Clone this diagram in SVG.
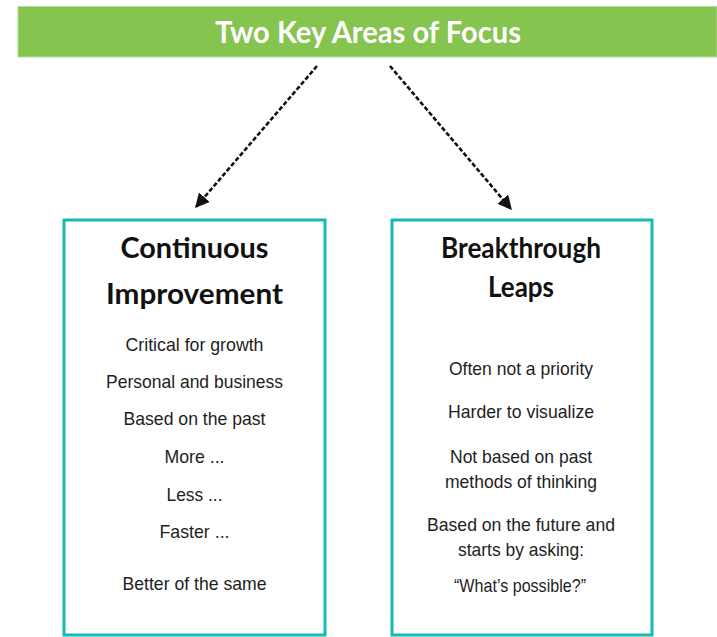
<svg xmlns="http://www.w3.org/2000/svg" width="717" height="637" viewBox="0 0 717 637">
  <style>
    .banner { fill: #85C44E; stroke: #B5DC95; stroke-width: 1; }
    .banner-title { font-family: Lato, "Open Sans", sans-serif; font-weight: bold; font-size: 30px; fill: #FFFFFF; text-anchor: middle; }
    .panel { fill: #FFFFFF; stroke: #17B9B3; stroke-width: 3; }
    .panel-title { font-family: Lato, "Open Sans", sans-serif; font-weight: bold; font-size: 28px; fill: #111111; text-anchor: middle; }
    .item { font-family: "Liberation Sans", Arial, sans-serif; font-size: 18.5px; fill: #1E1E1E; text-anchor: middle; }
    .link { fill: none; stroke: #111111; stroke-width: 2.6; stroke-dasharray: 4.5 2.2; }
  </style>
  <defs>
    <marker id="arrow" viewBox="0 0 10 10" refX="9" refY="5" markerWidth="5.5" markerHeight="5.5" orient="auto" markerUnits="strokeWidth">
      <path d="M0,0 L10,5 L0,10 z" fill="#111111"/>
    </marker>
  </defs>

  <rect width="717" height="637" fill="#FFFFFF"/>

  <!-- Banner heading -->
  <g id="heading">
    <rect class="banner" x="18" y="6.5" width="699" height="50.5"/>
    <text class="banner-title" x="368" y="43" textLength="306" lengthAdjust="spacingAndGlyphs">Two Key Areas of Focus</text>
  </g>

  <!-- Connectors from the heading to the two panels -->
  <g id="connectors">
    <line class="link" x1="317" y1="66" x2="196" y2="207" marker-end="url(#arrow)"/>
    <line class="link" x1="390" y1="66" x2="511" y2="209" marker-end="url(#arrow)"/>
  </g>

  <!-- Left panel -->
  <g id="continuous-improvement">
    <rect class="panel" x="64" y="220" width="261" height="415"/>
    <text class="panel-title" x="194.5" y="258" textLength="148" lengthAdjust="spacingAndGlyphs">Continuous</text>
    <text class="panel-title" x="194.5" y="304" textLength="177" lengthAdjust="spacingAndGlyphs">Improvement</text>
    <text class="item" x="194.5" y="351" textLength="138" lengthAdjust="spacingAndGlyphs">Critical for growth</text>
    <text class="item" x="194.5" y="388" textLength="177" lengthAdjust="spacingAndGlyphs">Personal and business</text>
    <text class="item" x="194.5" y="425" textLength="142" lengthAdjust="spacingAndGlyphs">Based on the past</text>
    <text class="item" x="194.5" y="463" textLength="60" lengthAdjust="spacingAndGlyphs">More ...</text>
    <text class="item" x="194.5" y="501" textLength="56" lengthAdjust="spacingAndGlyphs">Less ...</text>
    <text class="item" x="194.5" y="538" textLength="70" lengthAdjust="spacingAndGlyphs">Faster ...</text>
    <text class="item" x="194.5" y="590" textLength="144" lengthAdjust="spacingAndGlyphs">Better of the same</text>
  </g>

  <!-- Right panel -->
  <g id="breakthrough-leaps">
    <rect class="panel" x="392" y="220" width="260" height="415"/>
    <text class="panel-title" x="521" y="258" textLength="160" lengthAdjust="spacingAndGlyphs">Breakthrough</text>
    <text class="panel-title" x="521" y="297" textLength="66" lengthAdjust="spacingAndGlyphs">Leaps</text>
    <text class="item" x="521" y="375" textLength="144" lengthAdjust="spacingAndGlyphs">Often not a priority</text>
    <text class="item" x="521" y="418" textLength="146" lengthAdjust="spacingAndGlyphs">Harder to visualize</text>
    <text class="item" x="521" y="463" textLength="142" lengthAdjust="spacingAndGlyphs">Not based on past</text>
    <text class="item" x="521" y="488" textLength="152" lengthAdjust="spacingAndGlyphs">methods of thinking</text>
    <text class="item" x="521" y="531" textLength="188" lengthAdjust="spacingAndGlyphs">Based on the future and</text>
    <text class="item" x="521" y="556" textLength="126" lengthAdjust="spacingAndGlyphs">starts by asking:</text>
    <text class="item" x="520" y="592" textLength="132" lengthAdjust="spacingAndGlyphs">“What’s possible?”</text>
  </g>
</svg>
